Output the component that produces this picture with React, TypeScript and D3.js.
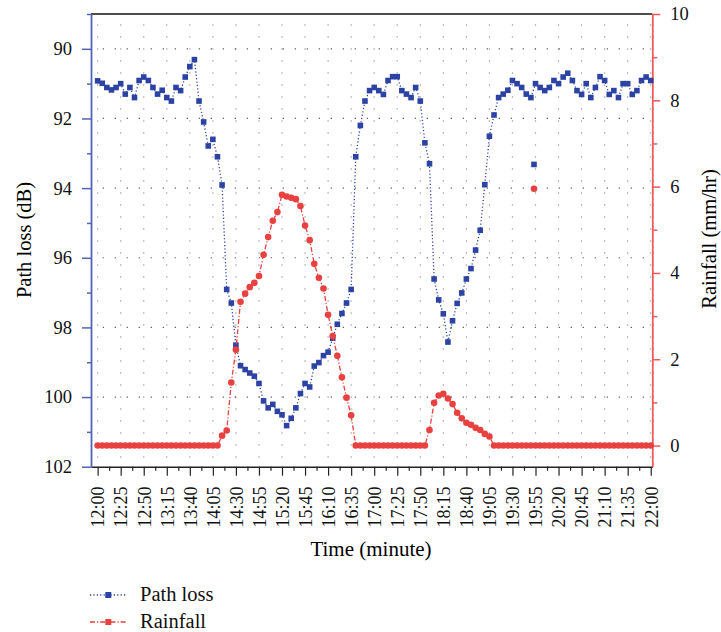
import { useEffect, useRef } from "react";
import * as d3 from "d3";

// samples every 5 minutes from 12:00 to 22:00
const startTime = "12:00";
const stepMinutes = 5;

const pathLoss = [
  90.92, 90.99, 91.11, 91.18, 91.11, 91.0, 91.3, 91.11, 91.4, 90.91,
  90.81, 90.91, 91.11, 91.3, 91.19, 91.4, 91.5, 91.11, 91.2, 90.81,
  90.51, 90.31, 91.5, 92.1, 92.79, 92.6, 93.1, 93.91, 96.91, 97.3,
  98.51, 99.1, 99.21, 99.31, 99.4, 99.61, 100.11, 100.31, 100.21, 100.41,
  100.51, 100.82, 100.61, 100.31, 99.9, 99.61, 99.71, 99.11, 99.01, 98.81,
  98.71, 98.31, 97.91, 97.6, 97.3, 96.91, 93.1, 92.2, 91.5, 91.2,
  91.11, 91.2, 91.31, 90.91, 90.8, 90.8, 91.2, 91.3, 91.4, 91.11,
  91.5, 92.7, 93.3, 96.61, 97.21, 97.61, 98.42, 97.81, 97.31, 97.01,
  96.61, 96.31, 95.78, 95.21, 93.9, 92.51, 91.9, 91.4, 91.3, 91.19,
  90.91, 91.0, 91.11, 91.3, 91.4, 91.0, 91.11, 91.2, 91.11, 90.91,
  91.0, 90.81, 90.7, 90.91, 91.2, 91.31, 91.0, 91.4, 91.11, 90.8,
  90.91, 91.31, 91.2, 91.4, 91.0, 91.0, 91.31, 91.2, 90.91, 90.81,
  90.91,
];

const rainfall = [
  0, 0, 0, 0, 0, 0, 0, 0, 0, 0,
  0, 0, 0, 0, 0, 0, 0, 0, 0, 0,
  0, 0, 0, 0, 0, 0, 0, 0.23, 0.35, 1.46,
  2.22, 3.33, 3.52, 3.67, 3.77, 3.93, 4.42, 4.83, 5.21, 5.41,
  5.81, 5.77, 5.74, 5.71, 5.55, 5.1, 4.76, 4.21, 3.89, 3.64,
  3.03, 2.54, 2.08, 1.58, 1.11, 0.7, 0, 0, 0, 0,
  0, 0, 0, 0, 0, 0, 0, 0, 0, 0,
  0, 0, 0.36, 0.99, 1.16, 1.2, 1.09, 0.96, 0.76, 0.63,
  0.53, 0.48, 0.41, 0.36, 0.27, 0.21, 0, 0, 0, 0,
  0, 0, 0, 0, 0, 0, 0, 0, 0, 0,
  0, 0, 0, 0, 0, 0, 0, 0, 0, 0,
  0, 0, 0, 0, 0, 0, 0, 0, 0, 0,
  0,
];

// the lone pair of marks drawn at 19:55
const strayTimes = ["19:55"];
const strayPathLoss = [93.32];
const strayRainfall = [5.95];

const timeTicks = [
  "12:00", "12:25", "12:50", "13:15", "13:40", "14:05", "14:30", "14:55", "15:20",
  "15:45", "16:10", "16:35", "17:00", "17:25", "17:50", "18:15", "18:40", "19:05",
  "19:30", "19:55", "20:20", "20:45", "21:10", "21:35", "22:00",
];
const pathLossTicks = [90, 92, 94, 96, 98, 100, 102];
const pathLossMinor = [89, 91, 93, 95, 97, 99, 101];
const rainTicks = [0, 2, 4, 6, 8, 10];
const rainMinor = [1, 3, 5, 7, 9];

const BLUE = "#2d43a3";
const RED = "#e8413f";
const FONT = "'Liberation Serif', 'Times New Roman', serif";

const toMin = (s: string) => {
  const [h, m] = s.split(":").map(Number);
  const [h0, m0] = startTime.split(":").map(Number);
  return h * 60 + m - (h0 * 60 + m0);
};

export default function App() {
  const svgRef = useRef<SVGSVGElement | null>(null);

  useEffect(() => {
    const svg = d3.select(svgRef.current);
    const width = 721;
    const height = 632;
    const left = 91, right = 652.3, top = 14, bottom = 466.7;

    svg.selectAll("*").remove();
    svg.attr("width", width).attr("height", height).attr("viewBox", `0 0 ${width} ${height}`);

    const x = d3.scaleLinear().domain([-7.2, 601.7]).range([left, right]);
    const yL = d3.scaleLinear().domain([89, 102]).range([top, bottom]);
    const yR = d3.scaleLinear().domain([-0.49, 10]).range([bottom, top]);

    const majorMins = timeTicks.map(toMin);
    const minorMins = d3.pairs(majorMins).map(([a, b]) => (a + b) / 2);

    // grid
    const grid = svg.append("g");
    grid.selectAll("line.vg")
      .data(majorMins)
      .enter()
      .append("line")
      .attr("x1", (d) => x(d)).attr("x2", (d) => x(d))
      .attr("y1", top + 10.4).attr("y2", bottom)
      .attr("stroke", "#7a7a7a")
      .attr("stroke-width", 1.2)
      .attr("stroke-dasharray", "1.2 10.8");
    grid.selectAll("line.hg")
      .data(pathLossTicks.slice(0, -1))
      .enter()
      .append("line")
      .attr("x1", left + 11.7).attr("x2", right)
      .attr("y1", (d) => yL(d)).attr("y2", (d) => yL(d))
      .attr("stroke", "#555")
      .attr("stroke-width", 1.2)
      .attr("stroke-dasharray", "1.2 10.8");

    // top frame
    svg.append("line")
      .attr("x1", left).attr("x2", right).attr("y1", top).attr("y2", top)
      .attr("stroke", "#111").attr("stroke-width", 1.5);

    // x axis
    const xAxis = svg.append("g")
      .attr("transform", `translate(0,${bottom})`)
      .call(d3.axisBottom(x).tickValues(majorMins).tickSizeInner(9).tickSizeOuter(0)
        .tickFormat((_, i) => timeTicks[i]));
    xAxis.select(".domain").attr("stroke", "#222").attr("stroke-width", 1.5);
    xAxis.selectAll(".tick line").attr("stroke", "#222").attr("stroke-width", 1.2);
    xAxis.selectAll("text")
      .attr("x", 0).attr("y", 0)
      .attr("dy", "0.35em")
      .attr("text-anchor", "end")
      .attr("transform", "translate(0,19.7) rotate(-90)")
      .attr("fill", "#111")
      .style("font-family", FONT)
      .style("font-size", "18px");
    svg.append("g")
      .attr("transform", `translate(0,${bottom})`)
      .call(d3.axisBottom(x).tickValues(minorMins).tickSize(4).tickFormat(() => ""))
      .call((g) => g.select(".domain").remove())
      .selectAll("line").attr("stroke", "#222").attr("stroke-width", 1.2);

    // left axis
    const lAxis = svg.append("g")
      .attr("transform", `translate(${left},0)`)
      .call(d3.axisLeft(yL).tickValues(pathLossTicks).tickSizeInner(9).tickSizeOuter(0).tickPadding(10));
    lAxis.select(".domain").attr("stroke", "#5264b8").attr("stroke-width", 1.8);
    lAxis.selectAll(".tick line").attr("stroke", "#5264b8").attr("stroke-width", 1.5);
    lAxis.selectAll("text").attr("fill", "#111").style("font-family", FONT).style("font-size", "18.5px");
    svg.append("g")
      .attr("transform", `translate(${left},0)`)
      .call(d3.axisLeft(yL).tickValues(pathLossMinor).tickSize(4).tickFormat(() => ""))
      .call((g) => g.select(".domain").remove())
      .selectAll("line").attr("stroke", "#5264b8").attr("stroke-width", 1.5);

    // right axis
    const rAxis = svg.append("g")
      .attr("transform", `translate(${right},0)`)
      .call(d3.axisRight(yR).tickValues(rainTicks).tickSizeInner(8).tickSizeOuter(0).tickPadding(10));
    rAxis.select(".domain").attr("stroke", "#ec5a5c").attr("stroke-width", 1.8);
    rAxis.selectAll(".tick line").attr("stroke", "#ec5a5c").attr("stroke-width", 1.5);
    rAxis.selectAll("text").attr("fill", "#111").style("font-family", FONT).style("font-size", "18.5px");
    svg.append("g")
      .attr("transform", `translate(${right},0)`)
      .call(d3.axisRight(yR).tickValues(rainMinor).tickSize(5).tickFormat(() => ""))
      .call((g) => g.select(".domain").remove())
      .selectAll("line").attr("stroke", "#ec5a5c").attr("stroke-width", 1.5);

    // axis titles
    svg.append("text")
      .attr("transform", `translate(31,240) rotate(-90)`)
      .attr("text-anchor", "middle")
      .style("font-family", FONT).style("font-size", "20.5px")
      .text("Path loss (dB)");
    svg.append("text")
      .attr("transform", `translate(716,239) rotate(-90)`)
      .attr("text-anchor", "middle")
      .style("font-family", FONT).style("font-size", "20.5px")
      .text("Rainfall (mm/hr)");
    svg.append("text")
      .attr("x", 371).attr("y", 556)
      .attr("text-anchor", "middle")
      .style("font-family", FONT).style("font-size", "21px")
      .text("Time (minute)");

    // path loss series
    const plLine = d3.line<number>().x((_, i) => x(i * stepMinutes)).y((d) => yL(d));
    svg.append("path")
      .attr("d", plLine(pathLoss))
      .attr("fill", "none")
      .attr("stroke", BLUE)
      .attr("stroke-width", 1.3)
      .attr("stroke-dasharray", "1.2 2.2");
    svg.selectAll("rect.pl")
      .data(pathLoss)
      .enter()
      .append("rect")
      .attr("class", "pl")
      .attr("x", (_, i) => x(i * stepMinutes) - 2.8)
      .attr("y", (d) => yL(d) - 2.8)
      .attr("width", 5.6).attr("height", 5.6)
      .attr("fill", BLUE);

    // rainfall series
    const rfLine = d3.line<number>().x((_, i) => x(i * stepMinutes)).y((d) => yR(d));
    svg.append("path")
      .attr("d", rfLine(rainfall))
      .attr("fill", "none")
      .attr("stroke", RED)
      .attr("stroke-width", 1.3)
      .attr("stroke-dasharray", "5 2 1.2 2");
    svg.selectAll("circle.rf")
      .data(rainfall)
      .enter()
      .append("circle")
      .attr("class", "rf")
      .attr("cx", (_, i) => x(i * stepMinutes))
      .attr("cy", (d) => yR(d))
      .attr("r", 3.3)
      .attr("fill", RED);

    // stray marks
    svg.selectAll("rect.stray")
      .data(strayTimes)
      .enter()
      .append("rect")
      .attr("x", (d) => x(toMin(d)) - 1.5 - 2.8)
      .attr("y", (_, i) => yL(strayPathLoss[i]) - 2.8)
      .attr("width", 5.6).attr("height", 5.6)
      .attr("fill", BLUE);
    svg.selectAll("circle.stray")
      .data(strayTimes)
      .enter()
      .append("circle")
      .attr("cx", (d) => x(toMin(d)) - 1.5)
      .attr("cy", (_, i) => yR(strayRainfall[i]))
      .attr("r", 3.3)
      .attr("fill", RED);

    // legend
    const legend = [
      { name: "Path loss", color: BLUE, dash: "1.2 2.2", y: 595 },
      { name: "Rainfall", color: RED, dash: "5 2 1.2 2", y: 622 },
    ];
    const lg = svg.append("g");
    legend.forEach((d) => {
      lg.append("line")
        .attr("x1", 90).attr("x2", 127).attr("y1", d.y).attr("y2", d.y)
        .attr("stroke", d.color).attr("stroke-width", 1.3).attr("stroke-dasharray", d.dash);
      lg.append("rect")
        .attr("x", 105.3).attr("y", d.y - 3).attr("width", 6).attr("height", 6)
        .attr("fill", d.color);
      lg.append("text")
        .attr("x", 140).attr("y", d.y + 6)
        .style("font-family", FONT).style("font-size", "20.5px")
        .attr("fill", "#111")
        .text(d.name);
    });
  }, []);

  return (
    <svg
      ref={svgRef}
      style={{ position: "absolute", left: 0, top: 0, background: "#fff" }}
    />
  );
}
